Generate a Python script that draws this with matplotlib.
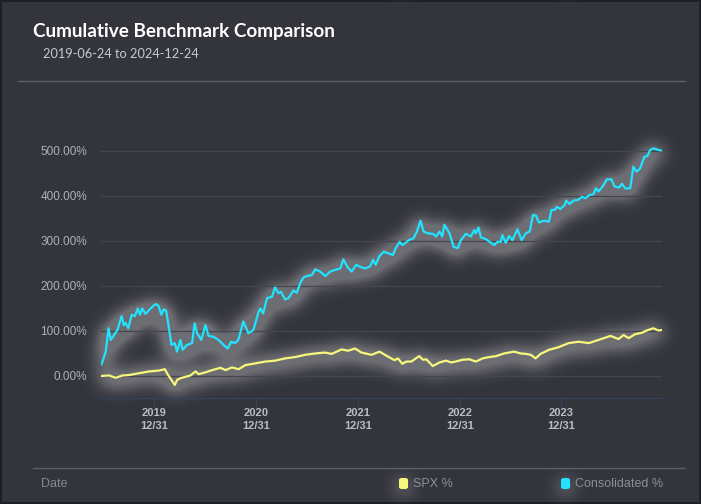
import matplotlib
matplotlib.use("Agg")
import matplotlib.pyplot as plt
from matplotlib.patches import Rectangle, FancyBboxPatch
from matplotlib.lines import Line2D
import numpy as np
import pandas as pd

# Datos (rendimiento acumulado, %)
cons_fechas = [
    "2019-06-24", "2019-07-09", "2019-07-19", "2019-07-27", "2019-08-08", "2019-08-20",
    "2019-09-04", "2019-09-12", "2019-09-18", "2019-09-28", "2019-10-10", "2019-10-22",
    "2019-11-01", "2019-11-09", "2019-11-17", "2019-11-29", "2019-12-17", "2020-01-04",
    "2020-01-14", "2020-01-25", "2020-02-02", "2020-02-11", "2020-02-20", "2020-03-01",
    "2020-03-13", "2020-03-21", "2020-04-02", "2020-04-10", "2020-04-26", "2020-05-14",
    "2020-05-23", "2020-06-01", "2020-06-16", "2020-07-01", "2020-07-12", "2020-07-30",
    "2020-08-17", "2020-09-04", "2020-09-19", "2020-10-01", "2020-10-15", "2020-10-27",
    "2020-11-14", "2020-12-02", "2020-12-20", "2021-01-08", "2021-01-14", "2021-01-24",
    "2021-02-07", "2021-02-25", "2021-03-08", "2021-03-20", "2021-03-29", "2021-04-13",
    "2021-04-25", "2021-05-13", "2021-05-25", "2021-06-06", "2021-06-18", "2021-06-30",
    "2021-07-18", "2021-07-30", "2021-08-17", "2021-09-04", "2021-09-22", "2021-10-10",
    "2021-10-28", "2021-11-08", "2021-11-22", "2021-12-08", "2021-12-24", "2022-01-06",
    "2022-01-24", "2022-02-11", "2022-02-23", "2022-03-04", "2022-03-18", "2022-04-02",
    "2022-04-17", "2022-05-05", "2022-05-15", "2022-05-29", "2022-06-08", "2022-06-20",
    "2022-07-01", "2022-07-18", "2022-07-30", "2022-08-12", "2022-08-23", "2022-09-07",
    "2022-09-25", "2022-10-07", "2022-10-19", "2022-10-29", "2022-11-06", "2022-11-24",
    "2022-12-09", "2022-12-24", "2023-01-04", "2023-01-22", "2023-02-09", "2023-02-21",
    "2023-02-27", "2023-03-08", "2023-03-17", "2023-04-04", "2023-04-22", "2023-05-04",
    "2023-05-15", "2023-05-27", "2023-06-02", "2023-06-14", "2023-06-26", "2023-07-08",
    "2023-07-26", "2023-08-10", "2023-08-25", "2023-09-08", "2023-09-20", "2023-10-01",
    "2023-10-11", "2023-10-29", "2023-11-16", "2023-11-25", "2023-12-07", "2023-12-15",
    "2023-12-27", "2024-01-12", "2024-01-17", "2024-01-29", "2024-02-13", "2024-02-28",
    "2024-03-14", "2024-03-26", "2024-04-09", "2024-04-24", "2024-05-03", "2024-05-12",
    "2024-05-27", "2024-06-11", "2024-06-27", "2024-07-09", "2024-07-25", "2024-08-04",
    "2024-08-16", "2024-09-03", "2024-09-14", "2024-09-26", "2024-10-08", "2024-10-24",
    "2024-11-04", "2024-11-13", "2024-11-25", "2024-12-15", "2024-12-24",
]
cons_valores = [
    26, 54, 106, 80, 91, 102,
    133, 113, 118, 106, 136, 133,
    150, 136, 150, 138, 150, 160,
    156, 136, 148, 145, 110, 69,
    73, 54, 80, 58, 69, 73,
    117, 95, 80, 113, 89, 87,
    80, 69, 61, 76, 73, 80,
    121, 95, 102, 143, 150, 139,
    173, 176, 197, 184, 187, 170,
    173, 190, 185, 206, 219, 222,
    224, 237, 232, 222, 232, 236,
    239, 259, 243, 232, 247, 243,
    239, 243, 258, 247, 267, 276,
    273, 269, 284, 298, 291, 296,
    302, 306, 321, 345, 321, 317,
    316, 310, 321, 310, 336, 317,
    287, 284, 302, 316, 310, 324,
    317, 330, 308, 304, 296, 291,
    298, 298, 313, 296, 311, 302,
    326, 302, 317, 321, 358, 356,
    341, 345, 343, 369, 369, 376,
    371, 380, 390, 382, 390, 391,
    398, 395, 402, 404, 417, 410,
    421, 437, 437, 421, 419, 427,
    417, 417, 465, 454, 461, 487,
    489, 502, 506, 502, 501,
]

spx_fechas = [
    "2019-06-24", "2019-07-21", "2019-08-14", "2019-09-07", "2019-09-30", "2019-11-05",
    "2019-12-11", "2020-01-16", "2020-02-06", "2020-02-18", "2020-03-01", "2020-03-13",
    "2020-03-21", "2020-04-02", "2020-04-20", "2020-05-08", "2020-05-26", "2020-06-07",
    "2020-07-01", "2020-07-25", "2020-08-24", "2020-09-11", "2020-10-04", "2020-10-28",
    "2020-11-21", "2020-12-27", "2021-02-01", "2021-03-08", "2021-04-13", "2021-05-19",
    "2021-06-24", "2021-07-30", "2021-09-04", "2021-09-27", "2021-11-02", "2021-11-25",
    "2021-12-20", "2022-01-12", "2022-02-17", "2022-03-18", "2022-04-17", "2022-05-11",
    "2022-05-23", "2022-06-08", "2022-06-22", "2022-07-10", "2022-08-07", "2022-08-21",
    "2022-09-02", "2022-09-25", "2022-10-19", "2022-11-12", "2022-11-29", "2022-12-17",
    "2023-01-10", "2023-02-03", "2023-02-27", "2023-03-23", "2023-04-16", "2023-05-10",
    "2023-06-08", "2023-07-14", "2023-08-07", "2023-08-25", "2023-09-12", "2023-09-29",
    "2023-10-17", "2023-11-16", "2023-12-21", "2024-01-26", "2024-03-02", "2024-04-07",
    "2024-05-12", "2024-06-24", "2024-07-23", "2024-08-10", "2024-08-28", "2024-09-21",
    "2024-10-15", "2024-11-01", "2024-11-25", "2024-12-13", "2024-12-24",
]
spx_valores = [
    0, 1, -4, 1, 2, 6,
    10, 12, 15, 2, -9, -20,
    -9, -5, -2, 1, 10, 4,
    8, 13, 18, 13, 19, 15,
    24, 28, 32, 34, 39, 42,
    47, 50, 52, 49, 59, 56,
    61, 52, 47, 54, 43, 35,
    39, 27, 32, 32, 44, 36,
    37, 22, 30, 34, 30, 32,
    36, 37, 32, 39, 42, 44,
    50, 54, 50, 49, 47, 39,
    49, 58, 64, 73, 76, 73,
    80, 89, 82, 91, 84, 93,
    96, 101, 106, 101, 102,
]

ticks_eje_x = ["2019-12-31", "2020-12-31", "2021-12-31", "2022-12-31", "2023-12-31"]
ticks_eje_y = [0, 100, 200, 300, 400, 500]

color_fondo = "#33343c"
color_cons = "#22e3ff"
color_spx = "#f7f77c"

W, H = 701, 504
caja_ejes = [101 / W, 1 - 398 / H, 561 / W, 292 / H]
limite_x = (pd.Timestamp("2019-06-22"), pd.Timestamp("2024-12-26"))
limite_y = (-49, 600)
leyenda = [("SPX %", color_spx, 399), ("Consolidated %", color_cons, 561)]

x_cons = pd.to_datetime(cons_fechas)
x_spx = pd.to_datetime(spx_fechas)


def cuadro_leyenda(figura, xpx, color):
    figura.patches.append(FancyBboxPatch((xpx / W, 1 - 489 / H), 9 / W, 11 / H,
                                         boxstyle="round,pad=0,rounding_size=0.004",
                                         transform=figura.transFigure, facecolor=color,
                                         edgecolor="none"))


# --- mascara del halo: se dibujan las lineas aparte y se difuminan ---
fig_g = plt.figure(figsize=(W / 100, H / 100), dpi=100)
fig_g.patch.set_alpha(0)
axg = fig_g.add_axes(caja_ejes)
axg.patch.set_alpha(0)
axg.set_axis_off()
axg.set_xlim(*limite_x)
axg.set_ylim(*limite_y)
axg.plot(x_spx, spx_valores, color="white", lw=6)
axg.plot(x_cons, cons_valores, color="white", lw=6)
for _, _, xpx in leyenda:
    cuadro_leyenda(fig_g, xpx, "white")
fig_g.canvas.draw()
mascara = np.asarray(fig_g.canvas.buffer_rgba())[:, :, 3].astype(float) / 255
plt.close(fig_g)

sigma = 9.0
k = np.arange(-30, 31)
nucleo = np.exp(-k ** 2 / (2 * sigma ** 2))
nucleo /= nucleo.sum()
mascara = np.apply_along_axis(lambda f: np.convolve(f, nucleo, mode="same"), 1, mascara)
mascara = np.apply_along_axis(lambda c: np.convolve(c, nucleo, mode="same"), 0, mascara)
mascara = np.roll(mascara, 3, axis=0)
halo = np.zeros((H, W, 4))
halo[..., :3] = 0.85
halo[..., 3] = np.clip(mascara * 1.05, 0, 0.36)

# --- figura principal ---
fig = plt.figure(figsize=(W / 100, H / 100), dpi=100)
fig.patch.set_facecolor("#1e1f24")
fig.patches.append(Rectangle((2 / W, 2 / H), (W - 4) / W, (H - 4) / H,
                             transform=fig.transFigure, facecolor=color_fondo,
                             edgecolor="none", zorder=-10))

ax_halo = fig.add_axes([0, 0, 1, 1], zorder=-5)
ax_halo.set_axis_off()
ax_halo.imshow(halo, extent=(0, 1, 0, 1), aspect="auto", interpolation="bilinear")

ax = fig.add_axes(caja_ejes, zorder=1)
ax.patch.set_alpha(0)

ax.plot(x_spx, spx_valores, color=color_spx, lw=1.6, zorder=4)
ax.plot(x_cons, cons_valores, color=color_cons, lw=1.6, zorder=4)

ax.set_ylim(*limite_y)
ax.set_xlim(*limite_x)

ax.set_yticks(ticks_eje_y)
ax.set_yticklabels([f"{v:.2f}%" for v in ticks_eje_y])
ax.grid(axis="y", color="#45464f", lw=0.9)
ax.set_axisbelow(True)

ax.set_xticks(pd.to_datetime(ticks_eje_x))
ax.set_xticklabels([f"{f[:4]}\n12/31" for f in ticks_eje_x])

for lado in ["top", "right", "left"]:
    ax.spines[lado].set_visible(False)
ax.spines["bottom"].set_color("#34425c")
ax.spines["bottom"].set_linewidth(1.0)

ax.tick_params(axis="y", length=0, pad=10, labelsize=8.5, labelcolor="#aeb1ba")
ax.tick_params(axis="x", length=7, width=0.8, color="#34425c", pad=0.5,
               labelsize=8, labelcolor="#b9bcc5")
for t in ax.get_yticklabels() + ax.get_xticklabels():
    t.set_fontfamily("Liberation Sans")
for t in ax.get_xticklabels():
    t.set_fontweight("bold")
    t.set_linespacing(1.3)

# Cabecera
fig.text(33 / W, 1 - 32 / H, "Cumulative Benchmark Comparison", color="white",
         fontsize=13.6, fontweight="bold", family="Lato", va="center")
fig.text(43 / W, 1 - 54 / H, "2019-06-24 to 2024-12-24", color="#c9cacf",
         fontsize=9.2, family="Lato", va="center")
fig.add_artist(Line2D([18 / W, 685 / W], [1 - 81 / H, 1 - 81 / H],
                      color="#5e5f66", lw=1, transform=fig.transFigure))

# Pie con leyenda
fig.add_artist(Line2D([33 / W, 685 / W], [1 - 468 / H, 1 - 468 / H],
                      color="#5e5f66", lw=1, transform=fig.transFigure))
fig.text(41 / W, 1 - 484 / H, "Date", color="#868992", fontsize=9,
         family="Liberation Sans", va="center")
for nombre, color, xpx in leyenda:
    cuadro_leyenda(fig, xpx, color)
    fig.text((xpx + 14) / W, 1 - 484 / H, nombre, color="#8d9099", fontsize=9,
             family="Liberation Sans", va="center")

fig.savefig("out.png", dpi=100, facecolor=fig.get_facecolor())
